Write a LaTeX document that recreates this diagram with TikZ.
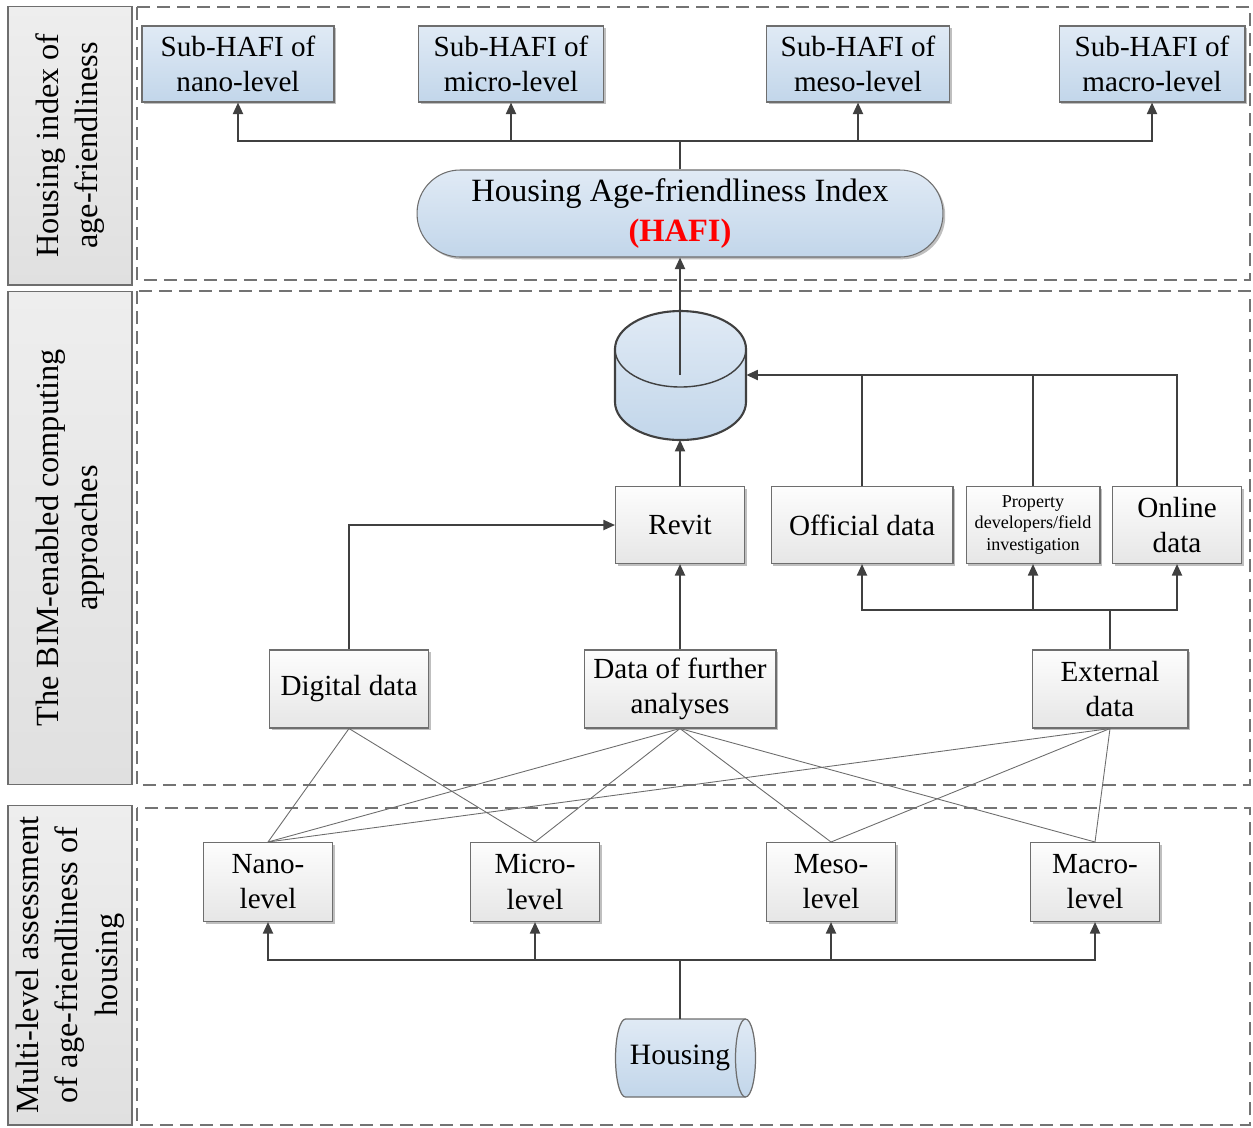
\documentclass[tikz,border=0pt]{standalone}
\usepackage{fontspec}
\setmainfont{Liberation Serif}
\usetikzlibrary{arrows.meta,shadows}

\definecolor{boxline}{RGB}{110,110,110}
\definecolor{arrowgray}{RGB}{64,64,64}
\definecolor{bluetop}{RGB}{224,234,245}
\definecolor{bluebot}{RGB}{194,214,234}
\definecolor{graytop}{RGB}{253,253,253}
\definecolor{graybot}{RGB}{230,230,230}
\definecolor{lanetop}{RGB}{238,238,238}
\definecolor{lanebot}{RGB}{224,224,224}
\definecolor{dashgray}{RGB}{115,115,115}

\tikzset{
  boxshadow/.style={drop shadow={shadow xshift=1.3pt,shadow yshift=-1.3pt,opacity=0.25,fill=black}},
  bluebox/.style={draw=boxline,line width=0.6pt,top color=bluetop,bottom color=bluebot,align=center,
    font=\fontsize{16.6}{20}\selectfont,minimum height=1.52cm,inner sep=2pt,boxshadow},
  graybox/.style={draw=boxline,line width=0.6pt,top color=graytop,bottom color=graybot,align=center,
    font=\fontsize{16.6}{20}\selectfont,inner sep=2pt,boxshadow},
  lanebox/.style={draw=boxline,line width=0.6pt,top color=lanetop,bottom color=lanebot,rotate=90,
    align=center,font=\fontsize{18.4}{22.5}\selectfont,minimum height=2.48cm},
  laneframe/.style={draw=dashgray,line width=1.3pt,dash pattern=on 0.26cm off 0.14cm},
  arr/.style={draw=arrowgray,line width=1.05pt,-{Triangle[length=0.23cm,width=0.2cm]}},
  link/.style={draw=arrowgray,line width=1.05pt},
  thinlink/.style={draw=gray!85!black,line width=0.5pt},
}

\begin{document}
\begin{tikzpicture}[x=0.02cm,y=0.02cm]
                \pgfmathsetmacro{\subrow}{-64}
                \pgfmathsetmacro{\toolrow}{-525}
                \pgfmathsetmacro{\datarow}{-689}
                \pgfmathsetmacro{\levelrow}{-882}

                \useasboundingbox (0,0) rectangle (1253,-1127);

                \draw[laneframe] (137,-7) rectangle (1250,-280);
                \draw[laneframe] (137,-291) rectangle (1250,-785);
                \draw[laneframe] (137,-808) rectangle (1250,-1125);

                \node[lanebox,minimum width=5.58cm] (lanetop) at (70,-145.5) {Housing index of\\age-friendliness};
                \node[lanebox,minimum width=9.88cm] (lanemid) at (70,-538) {The BIM-enabled computing\\approaches};
                \node[lanebox,minimum width=6.4cm] (lanebot) at (70,-965) {Multi-level assessment\\of age-friendliness of\\housing};

                \node[bluebox,minimum width=3.84cm] (subnano) at (238,\subrow) {Sub-HAFI of\\nano-level};
                \node[bluebox,minimum width=3.7cm] (submicro) at (511,\subrow) {Sub-HAFI of\\micro-level};
                \node[bluebox,minimum width=3.66cm] (submeso) at (858,\subrow) {Sub-HAFI of\\meso-level};
                \node[bluebox,minimum width=3.72cm] (submacro) at (1152,\subrow) {Sub-HAFI of\\macro-level};

                \node[bluebox,rounded corners=0.86cm,minimum width=10.52cm,minimum height=1.74cm,
                  font=\fontsize{18.5}{22.8}\selectfont] (hafi) at (680,-213.5)
                  {Housing Age-friendliness Index\\\textcolor{red}{\textbf{(HAFI)}}};

                \path[draw=arrowgray,line width=1.2pt,top color=bluetop,bottom color=bluebot]
                  (615,-349) -- (615,-402) arc[start angle=180,end angle=360,x radius=1.31cm,y radius=0.76cm]
                  -- (746,-349) arc[start angle=0,end angle=180,x radius=1.31cm,y radius=0.76cm] -- cycle;
                \draw[draw=arrowgray,line width=0.8pt] (615,-349) arc[start angle=180,end angle=360,x radius=1.31cm,y radius=0.76cm];
                \node[minimum width=2.62cm,minimum height=2.58cm,inner sep=0pt] (db) at (680.5,-375) {};

                \node[graybox,minimum width=2.58cm,minimum height=1.54cm] (revit) at (680,\toolrow) {Revit};
                \node[graybox,minimum width=3.64cm,minimum height=1.54cm] (offi) at (862,\toolrow) {Official data};
                \node[graybox,minimum width=2.68cm,minimum height=1.54cm,font=\fontsize{10.3}{12.2}\selectfont] (prop) at (1033,\toolrow) {Property\\developers/field\\investigation};
                \node[graybox,minimum width=2.58cm,minimum height=1.54cm] (online) at (1177,\toolrow) {Online\\data};

                \node[graybox,minimum width=3.18cm,minimum height=1.56cm] (digi) at (349,\datarow) {Digital data};
                \node[graybox,minimum width=3.84cm,minimum height=1.56cm] (furt) at (680,\datarow) {Data of further\\analyses};
                \node[graybox,minimum width=3.12cm,minimum height=1.56cm] (ext) at (1110,\datarow) {External\\data};

                \node[graybox,minimum width=2.58cm,minimum height=1.58cm] (nano) at (268,\levelrow) {Nano-\\level};
                \node[graybox,minimum width=2.58cm,minimum height=1.58cm] (micro) at (535,\levelrow) {Micro-\\level};
                \node[graybox,minimum width=2.58cm,minimum height=1.58cm] (meso) at (831,\levelrow) {Meso-\\level};
                \node[graybox,minimum width=2.58cm,minimum height=1.58cm] (macro) at (1095,\levelrow) {Macro-\\level};

                \path[draw=boxline,line width=0.7pt,top color=bluetop,bottom color=bluebot]
                  (625.5,-1019) -- (745.5,-1019) arc[start angle=90,end angle=-90,x radius=0.2cm,y radius=0.78cm]
                  -- (625.5,-1097) arc[start angle=270,end angle=90,x radius=0.2cm,y radius=0.78cm] -- cycle;
                \draw[draw=boxline,line width=0.7pt] (745.5,-1019) arc[start angle=90,end angle=270,x radius=0.2cm,y radius=0.78cm];
                \node[minimum width=2.8cm,minimum height=1.56cm,inner sep=0pt,font=\fontsize{16.8}{20}\selectfont] (house) at (680,-1058) {Housing};

                \coordinate (hj) at (680,-141);
                \draw[link] (hafi.north) -- (hj);
                \foreach \s in {subnano,submicro,submeso,submacro}
                  \draw[arr] (hj) -| (\s.south);
                \draw[arr] (revit.north |- db.center) -- (hafi.south);

                \draw[arr] (revit.north) -- (revit.north |- db.south);
                \draw[arr] (online.north) |- (db.east);
                \draw[link] (offi.north) -- (offi.north |- db.east);
                \draw[link] (prop.north) -- (prop.north |- db.east);
                \draw[arr] (digi.north) |- (revit.west);
                \draw[arr] (furt.north) -- (revit.south);

                \coordinate (ej) at (1110,-610);
                \draw[link] (ext.north) -- (ej);
                \foreach \s in {offi,prop,online}
                  \draw[arr] (ej) -| (\s.south);

                \foreach \b in {nano,micro}
                  \draw[thinlink] (digi.south) -- (\b.north);
                \foreach \b in {nano,micro,meso,macro}
                  \draw[thinlink] (furt.south) -- (\b.north);
                \foreach \b in {nano,meso,macro}
                  \draw[thinlink] (ext.south) -- (\b.north);

                \coordinate (bj) at (680,-960);
                \draw[link] (house.north) -- (bj);
                \foreach \b in {nano,micro,meso,macro}
                  \draw[arr] (bj) -| (\b.south);

        \end{tikzpicture}
\end{document}
